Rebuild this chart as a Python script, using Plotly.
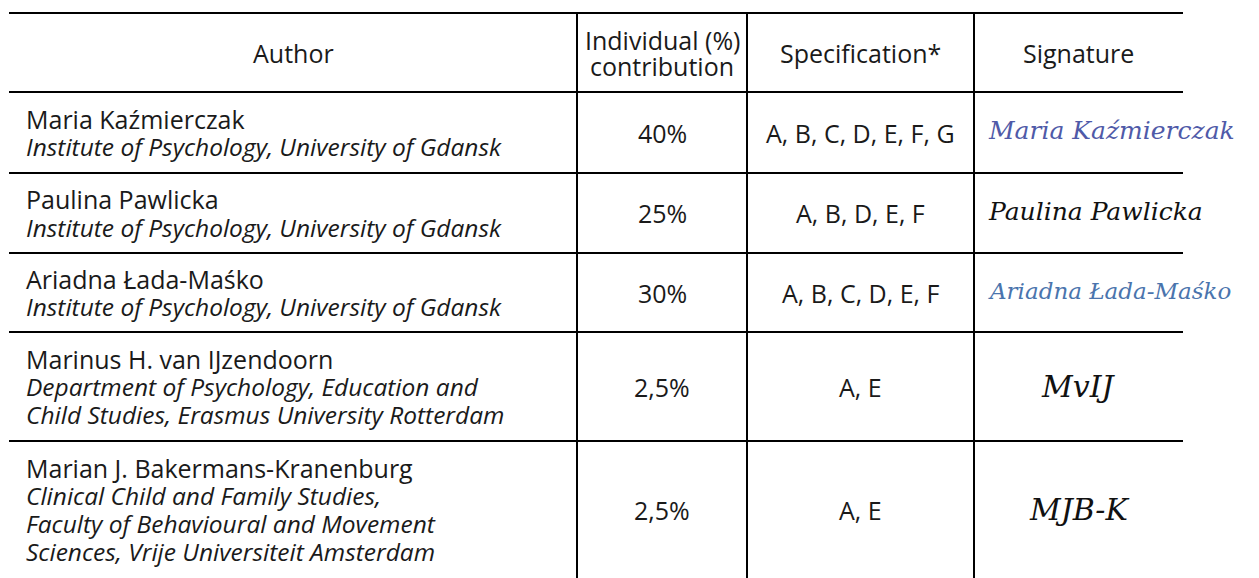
import plotly.graph_objects as go

# Table content
headers = ["Author", "Individual (%)<br>contribution", "Specification*", "Signature"]
authors = ["Maria Kaźmierczak", "Paulina Pawlicka", "Ariadna Łada-Maśko",
           "Marinus H. van IJzendoorn", "Marian J. Bakermans-Kranenburg"]
affiliations = [
    ["Institute of Psychology, University of Gdansk"],
    ["Institute of Psychology, University of Gdansk"],
    ["Institute of Psychology, University of Gdansk"],
    ["Department of Psychology, Education and",
     "Child Studies, Erasmus University Rotterdam"],
    ["Clinical Child and Family Studies,",
     "Faculty of Behavioural and Movement",
     "Sciences, Vrije Universiteit Amsterdam"],
]
contributions = ["40%", "25%", "30%", "2,5%", "2,5%"]
specifications = ["A, B, C, D, E, F, G", "A, B, D, E, F", "A, B, C, D, E, F", "A, E", "A, E"]
signatures = ["Maria Kaźmierczak", "Paulina Pawlicka", "Ariadna Łada-Maśko", "MvIJ", "MJB-K"]

# signature ink styles (colour, size)
sig_styles = [("#4f5aa8", 25), ("#111111", 25), ("#4a74ad", 23), ("#111111", 30), ("#111111", 30)]

# Grid geometry (pixels, y down)
W, H = 1259, 578
row_edges = [13, 92, 173, 253, 332, 441, 578]
col_edges = [9, 577, 747, 974, 1183]
line_gap = 28
text_x = 24

FONT = "Open Sans"
SIZE = 25
ISIZE = 24.5
TXT = "#1a1a1a"

fig = go.Figure()

# horizontal rules (no rule at bottom edge, table continues past the crop)
for y in row_edges[:-1]:
    fig.add_shape(type="line", x0=col_edges[0], x1=col_edges[-1], y0=y, y1=y,
                  line=dict(color="black", width=2))
# inner vertical rules
for x in col_edges[1:-1]:
    fig.add_shape(type="line", x0=x, x1=x, y0=row_edges[0], y1=row_edges[-1],
                  line=dict(color="black", width=2))

annotations = []

def cell_text(x, y, text, anchor="center", size=SIZE, color=TXT, family=FONT):
    annotations.append(dict(x=x, y=y, text=text, showarrow=False, xanchor=anchor,
                            yanchor="middle", font=dict(family=family, size=size, color=color)))

# header row
hy = (row_edges[0] + row_edges[1]) / 2
for i, h in enumerate(headers):
    cx = (col_edges[i] + col_edges[i + 1]) / 2
    if "<br>" in h:
        parts = h.split("<br>")
        cell_text(cx, hy - line_gap / 2 + 1, parts[0])
        cell_text(cx, hy + line_gap / 2 - 1, parts[1])
    else:
        cell_text(cx, hy, h)

# body rows
for r in range(len(authors)):
    top, bot = row_edges[r + 1], row_edges[r + 2]
    mid = (top + bot) / 2
    first = mid - len(affiliations[r]) * line_gap / 2
    cell_text(text_x, first, authors[r], anchor="left")
    for k, a in enumerate(affiliations[r]):
        cell_text(text_x, first + (k + 1) * line_gap, "<i>" + a + "</i>",
                  anchor="left", size=ISIZE)
    cell_text((col_edges[1] + col_edges[2]) / 2, mid, contributions[r])
    cell_text((col_edges[2] + col_edges[3]) / 2, mid, specifications[r])
    sig = "<i>" + signatures[r] + "</i>"
    color, size = sig_styles[r]
    if r < 3:
        cell_text(col_edges[3] + 12, mid - 2, sig, anchor="left",
                  size=size, color=color, family="DejaVu Serif")
    else:
        cell_text((col_edges[3] + col_edges[4]) / 2, mid, sig,
                  size=size, color=color, family="DejaVu Serif")

fig.update_layout(
    annotations=annotations,
    width=W, height=H,
    margin=dict(l=0, r=0, t=0, b=0),
    paper_bgcolor="white", plot_bgcolor="white",
    showlegend=False,
    xaxis=dict(range=[0, W], visible=False, fixedrange=True),
    yaxis=dict(range=[H, 0], visible=False, fixedrange=True),
)

fig.write_html("out.html", config={"displayModeBar": False},
               post_script="document.body.style.margin='0';")
